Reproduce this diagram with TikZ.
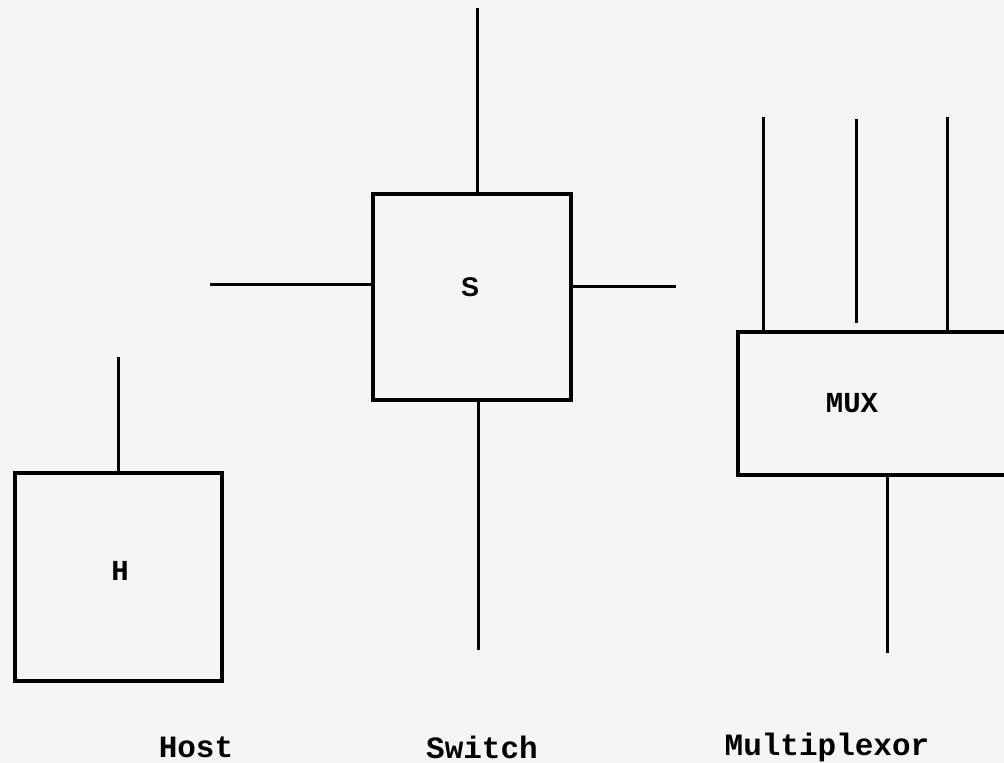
\documentclass[tikz,border=0pt]{standalone}
\usepackage{fontspec}
\setmonofont{Liberation Mono}
\setsansfont{Liberation Sans}
\definecolor{paper}{HTML}{F5F5F4}
\begin{document}
\begin{tikzpicture}[x=1pt,y=-1pt,
  box/.style={draw=black, line width=3.4pt, inner sep=0pt},
  wire/.style={draw=black, line width=3pt},
  lab/.style={font=\ttfamily\bfseries\fontsize{31}{33}\selectfont, inner sep=0pt},
  boxlab/.style={font=\ttfamily\bfseries\fontsize{29}{31}\selectfont, inner sep=0pt}]
\useasboundingbox (0,0) rectangle (1004,763);
\clip (0,0) rectangle (1004,763);
\fill[paper] (0,0) rectangle (1004,763);
% boxes
\node[box, minimum width=207pt, minimum height=208pt] (host) at (118.5,577) {};
\node[box, minimum width=198pt, minimum height=206pt] (switch) at (472,297) {};
\node[box, minimum width=302pt, minimum height=143pt] (mux) at (889,403.5) {};
% box labels
\node[boxlab] (hL) at (120,571) {H};
\node[font=\sffamily\bfseries\fontsize{27}{29}\selectfont, inner sep=0pt] (sL) at (470,287) {S};
\node[boxlab] (mL) at (852,403) {MUX};
% stem ends
\coordinate (hTop) at (118,357);
\coordinate (sTop) at (477,8);
\coordinate (sBot) at (478,650);
\coordinate (sLeft) at (210,284);
\coordinate (sRight) at (676,286);
\coordinate (m1) at (763,117);
\coordinate (m2) at (856,119);
\coordinate (m3) at (947,117);
\coordinate (mBot) at (887,653);
% wires
\draw[wire] (hTop) -- (hTop |- host.north);
\draw[wire] (sTop) -- (sTop |- switch.north);
\draw[wire] (sBot) -- (sBot |- switch.south);
\draw[wire] (sLeft) -- (sLeft -| switch.west);
\draw[wire] (sRight) -- (sRight -| switch.east);
\draw[wire] (m1) -- (m1 |- mux.north);
\draw[wire] (m2) -- ([yshift=7pt]m2 |- mux.north);
\draw[wire] (m3) -- (m3 |- mux.north);
\draw[wire] (mBot) -- (mBot |- mux.south);
% captions
\node[lab] (hostCap) at (196,747) {Host};
\node[lab] (switchCap) at (482,747) {Switch};
\node[lab] (muxCap) at (827,747) {Multiplexor};
\end{tikzpicture}
\end{document}
